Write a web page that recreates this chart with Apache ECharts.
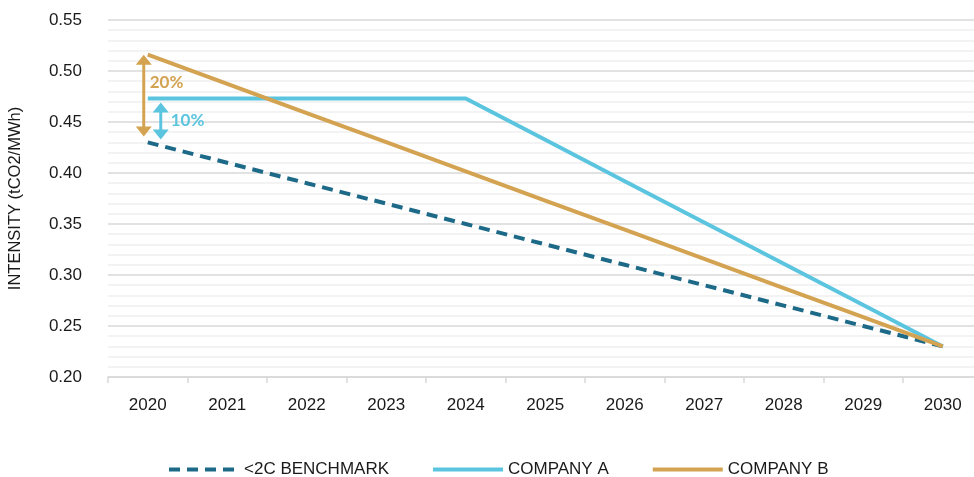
<!DOCTYPE html>
<html>
<head>
<meta charset="utf-8">
<script src="https://cdn.jsdelivr.net/npm/echarts@6/dist/echarts.min.js"></script>
<style>html,body{margin:0;padding:0;background:#fff}#c{width:974px;height:477px}</style>
</head>
<body>
<div id="c"></div>
<script>
var years = ['2020','2021','2022','2023','2024','2025','2026','2027','2028','2029','2030'];
var benchmark = [0.43, 0.41, 0.39, 0.37, 0.35, 0.33, 0.31, 0.29, 0.27, 0.25, 0.23];
var companyA = [0.473, 0.473, 0.473, 0.473, 0.473, 0.4325, 0.392, 0.3515, 0.311, 0.2705, 0.23];
var companyB = [0.516, 0.4874, 0.4588, 0.4302, 0.4016, 0.373, 0.3444, 0.3158, 0.2872, 0.2586, 0.23];
var seriesNames = ['<2C BENCHMARK', 'COMPANY A', 'COMPANY B'];
var gapLabels = ['20%', '10%'];

var cBench = '#1d6a88', cA = '#5bc5e0', cB = '#d4a352';
var chart = echarts.init(document.getElementById('c'));
chart.setOption({
  animation: false,
  grid: {left: 108, width: 874.5, top: 20, bottom: 100, containLabel: false, outerBoundsMode: 'none'},
  legend: {
    top: 456, left: 162, itemWidth: 70, itemHeight: 16, itemGap: 42,
    itemStyle: {color: 'rgba(0,0,0,0)', borderWidth: 0, opacity: 0},
    lineStyle: {width: 4},
    data: seriesNames.map(function(n){return {name:n};}),
    textStyle: {fontFamily: '"Liberation Sans", Arial, sans-serif', fontSize: 17, color: '#1a1a1a'}
  },
  xAxis: {
    type: 'category', data: years, boundaryGap: true,
    axisLine: {lineStyle: {color: '#d9d9d9', width: 1.5}},
    axisTick: {show: true, length: 6, lineStyle: {color: '#d9d9d9', width: 1.5}},
    axisLabel: {margin: 20, fontSize: 17, color: '#1a1a1a', fontFamily: '"Liberation Sans", Arial, sans-serif'}
  },
  yAxis: {
    type: 'value', min: 0.2, max: 0.55, interval: 0.05,
    name: 'INTENSITY (tCO2/MWh)', nameLocation: 'middle', nameGap: 84,
    nameTextStyle: {fontSize: 16.5, color: '#1a1a1a', fontFamily: '"Liberation Sans", Arial, sans-serif'},
    axisLine: {show: false}, axisTick: {show: false},
    axisLabel: {margin: 26, fontSize: 17, color: '#1a1a1a', fontFamily: '"Liberation Sans", Arial, sans-serif',
      formatter: function(v){return v.toFixed(2);}},
    splitLine: {lineStyle: {color: '#d9d9d9', width: 1.5}},
    minorTick: {show: false, splitNumber: 5},
    minorSplitLine: {show: true, lineStyle: {color: '#efefef', width: 1.5}}
  },
  series: [
    {name: seriesNames[0], type: 'line', data: benchmark, symbol: 'none', z: 3,
     lineStyle: {color: cBench, width: 4, type: [11, 7]}, itemStyle: {color: cBench}},
    {name: seriesNames[1], type: 'line', data: companyA, symbol: 'none', z: 4,
     lineStyle: {color: cA, width: 4}, itemStyle: {color: cA}},
    {name: seriesNames[2], type: 'line', data: companyB, symbol: 'none', z: 5,
     lineStyle: {color: cB, width: 4}, itemStyle: {color: cB}}
  ]
});

function arrow(x, y1, y2, color) {
  var h = 10, w = 8;
  return [
    {type: 'line', shape: {x1: x, y1: y1 + h - 1, x2: x, y2: y2 - h + 1}, style: {stroke: color, lineWidth: 3}, z: 10},
    {type: 'polygon', shape: {points: [[x, y1], [x - w, y1 + h], [x + w, y1 + h]]}, style: {fill: color}, z: 10},
    {type: 'polygon', shape: {points: [[x, y2], [x - w, y2 - h], [x + w, y2 - h]]}, style: {fill: color}, z: 10}
  ];
}
var pB = chart.convertToPixel({gridIndex: 0}, [years[0], companyB[0]]);
var pA = chart.convertToPixel({gridIndex: 0}, [years[0], companyA[0]]);
var pN = chart.convertToPixel({gridIndex: 0}, [years[0], benchmark[0]]);
var els = [];
els = els.concat(arrow(pB[0] - 4, pB[1], pN[1] - 6, cB));
els = els.concat(arrow(pB[0] + 13, pA[1] + 4, pN[1] - 3, cA));
els.push({type: 'text', x: pB[0] + 2, y: (pB[1] + pA[1]) / 2 + 6, z: 11,
  style: {text: gapLabels[0], fill: cB, font: 'bold 17px Lato, "Liberation Sans", sans-serif', textVerticalAlign: 'middle'}});
els.push({type: 'text', x: pB[0] + 23, y: (pA[1] + pN[1]) / 2 + 0, z: 11,
  style: {text: gapLabels[1], fill: cA, font: 'bold 17px Lato, "Liberation Sans", sans-serif', textVerticalAlign: 'middle'}});
chart.setOption({graphic: {elements: els}});
</script>
</body>
</html>
